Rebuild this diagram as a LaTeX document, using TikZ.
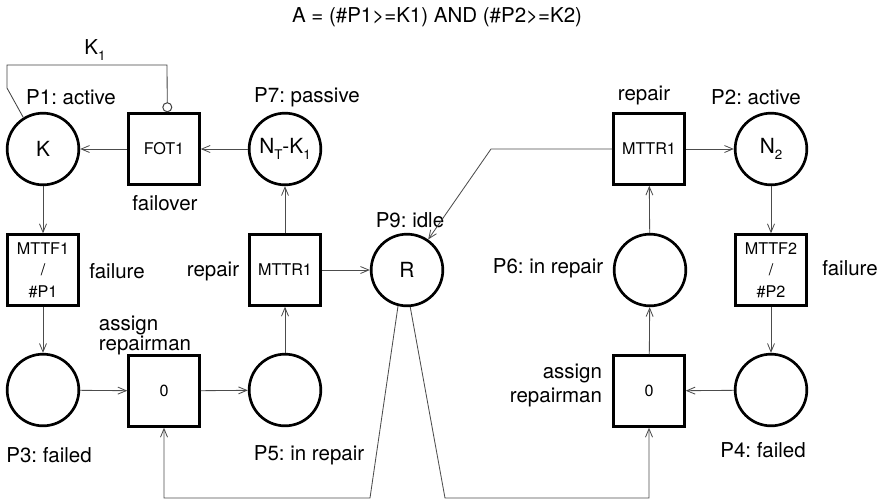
\documentclass[tikz,border=0pt]{standalone}
\usepackage{fontspec}
\setmainfont{TeX Gyre Heros}
\usetikzlibrary{arrows.meta,calc}
\newcommand{\lowidx}[1]{\raisebox{-0.5ex}{\footnotesize #1}}
\frenchspacing

\begin{document}
\begin{tikzpicture}[
    x=0.6pt, y=-0.6pt,
    place/.style={circle, draw, line width=1.6pt, minimum size=43pt,
                  inner sep=0pt, font=\fontsize{12.5}{15}\selectfont},
    trans/.style={rectangle, draw, line width=1.6pt, minimum size=42.5pt,
                  inner sep=0pt, align=center,
                  font=\fontsize{9.7}{13}\selectfont},
    arc/.style={-{Straight Barb[length=5pt,width=4.2pt]}, black!70,
                line width=0.5pt},
    inhib/.style={-{Circle[open,length=6pt,width=6pt,line width=0.6pt]},
                  black!75, line width=0.5pt},
    lbl/.style={font=\fontsize{12.3}{12}\selectfont},
]
\useasboundingbox (0,0) rectangle (882,503);

% Condition
\node[lbl] (cond) at (437,17) {A = (\#P1>=K1) AND (\#P2>=K2)};

% Left subsystem
\node[place] (p1) at (43,149) {K};
\node[trans] (fot) at (164,149) {FOT1};
\node[place] (p7) at (285,149) {N\lowidx{T}-K\lowidx{1}};
\node[trans] (mttfA) at (43,270) {MTTF1\\/\\\#P1};
\node[trans] (mttrA) at (285,270) {MTTR1};
\node[place] (p3) at (43,390) {};
\node[trans] (asgA) at (164,391) {0};
\node[place] (p5) at (285,390) {};

% Repairmen pool
\node[place] (p9) at (407,270) {R};

% Right subsystem
\node[trans] (mttrB) at (649,149) {MTTR1};
\node[place] (p2) at (771,149) {N\lowidx{2}};
\node[place] (p6) at (650,270) {};
\node[trans] (mttfB) at (771,270) {MTTF2\\/\\\#P2};
\node[trans] (asgB) at (649,391) {0};
\node[place] (p4) at (771,390) {};

% Labels
\node[lbl] (k1) at (95,50) {K\lowidx{1}};
\node[lbl] (lp1) at (71,97) {P1: active};
\node[lbl] (lp7) at (307,97) {P7: passive};
\node[lbl] (lfot) at (165,203) {failover};
\node[lbl] (lp9) at (410,220) {P9: idle};
\node[lbl] (lfa) at (117,271) {failure};
\node[lbl] (lra) at (213,271) {repair};
\node[lbl, align=left] (laa) at (145,335) {assign\\repairman};
\node[lbl] (lp3) at (49,455) {P3: failed};
\node[lbl] (lp5) at (309,455) {P5: in repair};
\node[lbl] (lrb) at (644,95) {repair};
\node[lbl] (lp2) at (756,97) {P2: active};
\node[lbl] (lp6) at (548,268) {P6: in repair};
\node[lbl] (lfb) at (850,268) {failure};
\node[lbl, align=right] (lab) at (556,385) {assign\\[2.4pt]repairman};
\node[lbl] (lp4) at (763,450) {P4: failed};

% Arcs, left subsystem
\draw[arc] (fot) -- (p1);
\draw[arc] (p7) -- (fot);
\draw[inhib] (p1.122) -- (7,88) |- (167,65) -- ([xshift=2pt]fot.north);
\draw[arc] (p1) -- (mttfA);
\draw[arc] (mttfA) -- (p3);
\draw[arc] (p3) -- (asgA);
\draw[arc] (asgA) -- (p5);
\draw[arc] (p5) -- (mttrA);
\draw[arc] (mttrA) -- (p7);
\draw[arc] (mttrA) -- (p9);

% Arcs, repairmen
\draw[arc] (p9.256) -- (370,498) -| (asgA.south);
\draw[arc] (p9.275) -- (445,498) -| (asgB.south);
\draw[arc] (mttrB.west) -- (491,149) -- (p9);

% Arcs, right subsystem
\draw[arc] (mttrB) -- (p2);
\draw[arc] (p2) -- (mttfB);
\draw[arc] (mttfB) -- (p4);
\draw[arc] (p4) -- (asgB);
\draw[arc] (asgB) -- (p6);
\draw[arc] (p6) -- (mttrB);

\end{tikzpicture}
\end{document}
